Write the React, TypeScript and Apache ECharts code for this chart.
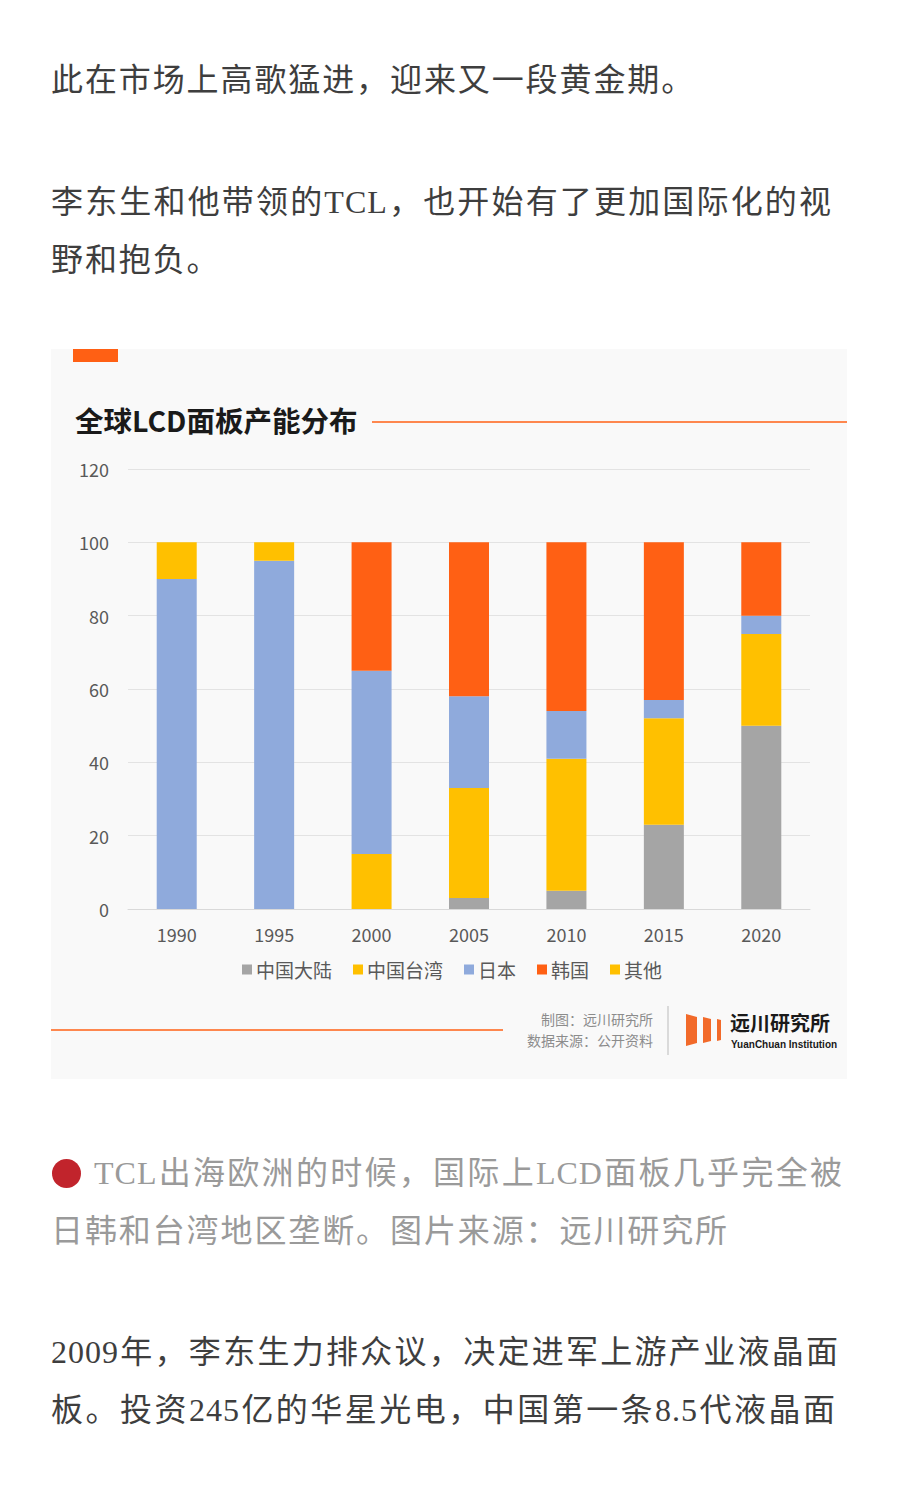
import React, { useEffect, useRef } from "react";
import * as echarts from "echarts";

const years = ["1990", "1995", "2000", "2005", "2010", "2015", "2020"];
const seriesNames = ["中国大陆", "中国台湾", "日本", "韩国", "其他"];
const mainland = [0, 0, 0, 3, 5, 23, 50];
const taiwan = [0, 0, 15, 30, 36, 29, 25];
const japan = [90, 95, 50, 25, 13, 5, 5];
const korea = [0, 0, 35, 42, 46, 43, 20];
const others = [10, 5, 0, 0, 0, 0, 0];
const colors = ["#A5A5A5", "#FFC000", "#8FAADC", "#FF6014", "#FFC000"];
const yTicks = { min: 0, max: 120, interval: 20 };

const ORANGE = "#FF6014";
const CJK = '"Noto Sans CJK SC", "Noto Sans", sans-serif';
const SERIF = '"Liberation Serif", "Noto Sans CJK SC", serif';

function Chart() {
  const ref = useRef<HTMLDivElement>(null);
  useEffect(() => {
    if (!ref.current) return;
    const chart = echarts.init(ref.current, null, { renderer: "svg" });
    const dataSets = [mainland, taiwan, japan, korea, others];
    chart.setOption({
      animation: false,
      backgroundColor: "#F9F9F9",
      textStyle: { fontFamily: CJK },
      grid: { left: 77, right: 37, top: 120, height: 440 },
      legend: {
        left: 186,
        top: 606,
        itemWidth: 10,
        itemHeight: 10,
        itemGap: 21,
        icon: "rect",
        textStyle: { fontSize: 19, color: "#595959", fontFamily: CJK, padding: [0, 0, 0, -1] },
        data: seriesNames,
      },
      xAxis: {
        type: "category",
        data: years,
        axisTick: { show: false },
        axisLine: { lineStyle: { color: "#D9D9D9", width: 1 } },
        axisLabel: { color: "#595959", fontSize: 18, margin: 16, fontFamily: CJK },
      },
      yAxis: {
        type: "value",
        min: yTicks.min,
        max: yTicks.max,
        interval: yTicks.interval,
        axisLine: { show: false },
        axisTick: { show: false },
        splitLine: { lineStyle: { color: "#E3E3E3", width: 1 } },
        axisLabel: { color: "#595959", fontSize: 18, margin: 19, fontFamily: CJK },
      },
      series: seriesNames.map((name, i) => ({
        name,
        type: "bar",
        stack: "total",
        barWidth: 40,
        data: dataSets[i],
        itemStyle: { color: colors[i] },
      })),
      graphic: [
        { type: "rect", shape: { x: 22, y: 0, width: 45, height: 13 }, style: { fill: ORANGE } },
        {
          type: "text",
          x: 24,
          y: 70,
          style: {
            text: "全球LCD面板产能分布",
            fontSize: 28.5,
            fontWeight: "bold",
            fontFamily: CJK,
            fill: "#1A1A1A",
            verticalAlign: "middle",
          },
        },
        { type: "line", shape: { x1: 321, y1: 73, x2: 796, y2: 73 }, style: { stroke: ORANGE, lineWidth: 1.5 } },
        { type: "line", shape: { x1: 0, y1: 681, x2: 452, y2: 681 }, style: { stroke: ORANGE, lineWidth: 1.5 } },
        { type: "line", shape: { x1: 617, y1: 657, x2: 617, y2: 706 }, style: { stroke: "#BBBBBB", lineWidth: 1 } },
        {
          type: "text",
          x: 602,
          y: 670,
          style: { text: "制图：远川研究所", fontSize: 14, fill: "#8C8C8C", align: "right", verticalAlign: "middle", fontFamily: CJK },
        },
        {
          type: "text",
          x: 602,
          y: 691,
          style: { text: "数据来源：公开资料", fontSize: 14, fill: "#8C8C8C", align: "right", verticalAlign: "middle", fontFamily: CJK },
        },
        { type: "polygon", shape: { points: [[635, 665], [646, 668], [646, 694], [635, 697]] }, style: { fill: "#F26A2A" } },
        { type: "polygon", shape: { points: [[652, 668], [660, 670], [660, 692], [652, 694]] }, style: { fill: "#F26A2A" } },
        { type: "polygon", shape: { points: [[666, 670], [670, 671], [670, 691], [666, 692]] }, style: { fill: "#F26A2A" } },
        {
          type: "text",
          x: 679,
          y: 673,
          style: { text: "远川研究所", fontSize: 20, fontWeight: "bold", fill: "#1A1A1A", verticalAlign: "middle", fontFamily: CJK },
        },
        {
          type: "text",
          x: 680,
          y: 695,
          style: { text: "YuanChuan Institution", fontSize: 10, fontWeight: "bold", fill: "#1A1A1A", verticalAlign: "middle", fontFamily: '"Liberation Sans", sans-serif' },
        },
      ],
    });
    return () => chart.dispose();
  }, []);
  return <div ref={ref} style={{ position: "absolute", left: 51, top: 349, width: 796, height: 730 }} />;
}

const lineBase: React.CSSProperties = {
  position: "absolute",
  left: 51,
  fontFamily: SERIF,
  fontSize: 32,
  lineHeight: "58px",
  height: 58,
  whiteSpace: "nowrap",
  color: "#3E3E3E",
};

function Line({ text, top, width, justify, left, color }: { text: string; top: number; width?: number; justify?: boolean; left?: number; color?: string }) {
  return (
    <div
      style={{
        ...lineBase,
        top: top - 29,
        left: left ?? 51,
        width: width,
        color: color ?? "#3E3E3E",
        letterSpacing: justify ? 1 : 1.9,
        textAlign: justify ? "justify" : "left",
        textAlignLast: justify ? "justify" : "left",
        whiteSpace: justify ? "normal" : "nowrap",
      }}
    >
      {text}
    </div>
  );
}

export default function App() {
  return (
    <div style={{ position: "absolute", left: 0, top: 0, width: 900, height: 1500, background: "#FFFFFF", overflow: "hidden" }}>
      <Line text="此在市场上高歌猛进，迎来又一段黄金期。" top={80} />
      <Line text="李东生和他带领的TCL，也开始有了更加国际化的视" top={202} width={781} justify />
      <Line text="野和抱负。" top={260} />
      <Chart />
      <div style={{ position: "absolute", left: 52, top: 1159, width: 29, height: 29, borderRadius: "50%", background: "#C1242C" }} />
      <Line text="TCL出海欧洲的时候，国际上LCD面板几乎完全被" top={1173} left={94} width={749} justify color="#9A9A9A" />
      <Line text="日韩和台湾地区垄断。图片来源：远川研究所" top={1231} color="#9A9A9A" />
      <Line text="2009年，李东生力排众议，决定进军上游产业液晶面" top={1352} width={788} justify />
      <Line text="板。投资245亿的华星光电，中国第一条8.5代液晶面" top={1410} width={785} justify />
    </div>
  );
}
